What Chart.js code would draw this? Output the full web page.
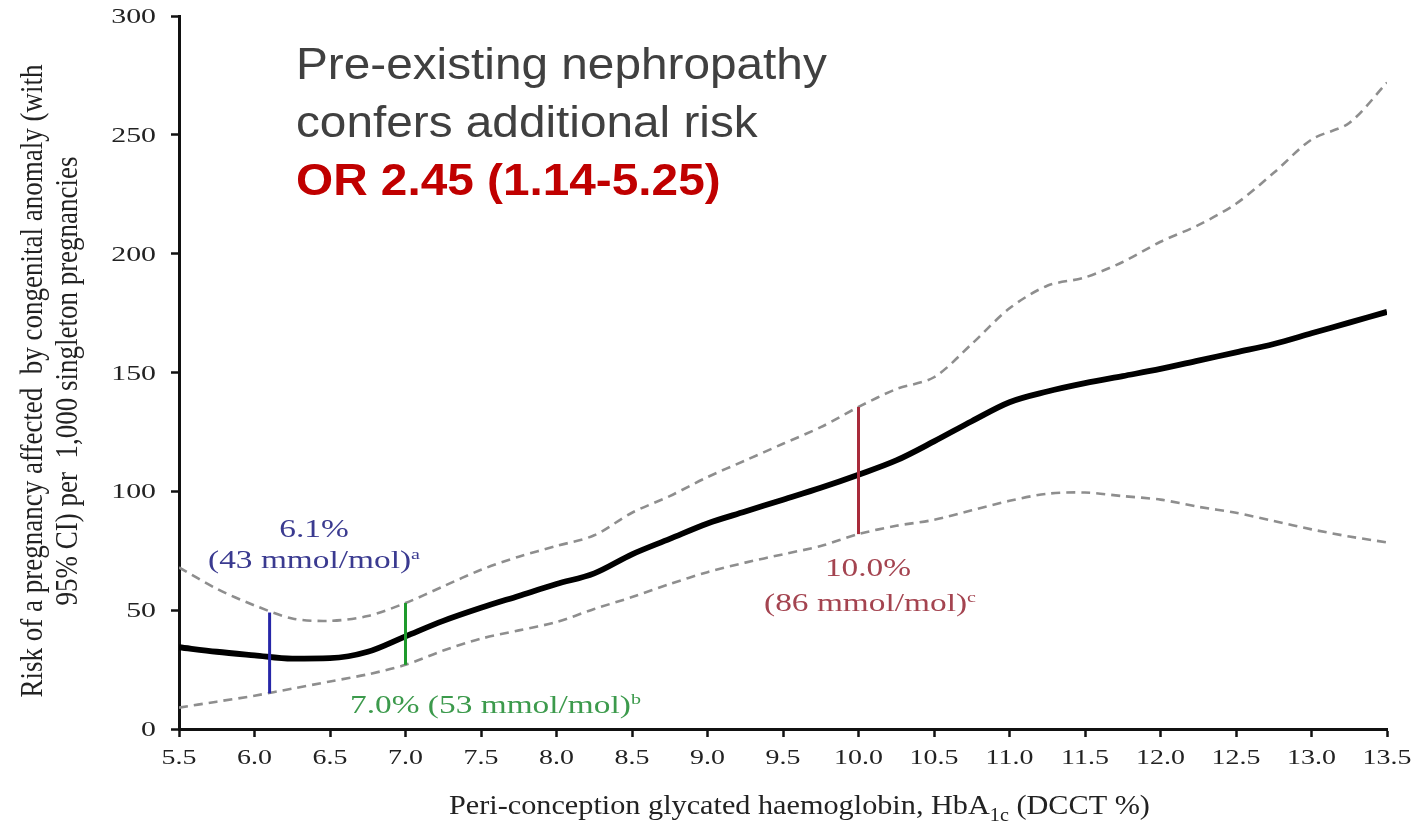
<!DOCTYPE html>
<html>
<head>
<meta charset="utf-8">
<script src="https://cdn.jsdelivr.net/npm/chart.js@4.4.1/dist/chart.umd.min.js"></script>
<style>
  html, body { margin: 0; padding: 0; background: #fff; }
  #wrap { position: relative; width: 1418px; height: 824px; }
  #headline {
    position: absolute; left: 296px; top: 35px;
    font-family: "Liberation Sans", Arial, sans-serif; font-size: 44px; line-height: 58px;
    color: #404040; transform: scaleX(1.085); transform-origin: left top; white-space: nowrap;
  }
  #headline .or { color: #c00000; font-weight: bold; }
</style>
</head>
<body>
<div id="wrap">
  <canvas id="riskChart" width="1418" height="824"></canvas>
  <div id="headline">Pre-existing nephropathy<br>confers additional risk<br><span class="or">OR 2.45 (1.14-5.25)</span></div>
</div>
<script>
// HbA1c (%) grid and modelled risk per 1,000 pregnancies
const hba1c = [5.5, 5.75, 6.0, 6.25, 6.5, 6.75, 7.0, 7.25, 7.5, 7.75, 8.0, 8.25, 8.5, 8.75, 9.0, 9.25, 9.5,
               9.75, 10.0, 10.25, 10.5, 10.75, 11.0, 11.25, 11.5, 11.75, 12.0, 12.25, 12.5, 12.75, 13.0, 13.25, 13.5];
const riskEstimate = [34.4, 32.5, 31, 29.6, 29.8, 32.5, 39, 45.5, 51, 56, 61, 65.5, 73.5, 80, 86.5, 91.5, 96.5,
                      101.5, 107, 113, 121, 129.5, 137.5, 142, 145.5, 148.5, 151.5, 155, 158.5, 162, 166.5, 171, 175.5];
const riskUpper = [68, 59, 52, 46.5, 45.5, 47.5, 53, 60, 67, 72.5, 77, 81.5, 91, 98, 106, 113, 120,
                   127, 135.5, 143, 148, 162, 177, 186.5, 190, 196.5, 205, 212, 221, 234, 248, 255, 272];
const riskLower = [9, 11.5, 14, 17, 20, 23, 27, 33, 38, 41.5, 45, 50.5, 55.5, 61, 66, 70, 73.5,
                   77, 82, 85.5, 88, 92, 96, 99, 99.5, 98, 96.5, 93.5, 91, 87.5, 84, 81, 78.5];

// highlighted HbA1c thresholds with their 95% CI
const markerHba1c = [6.1, 7.0, 10.0];
const markerLow = [15, 27, 82];
const markerHigh = [49, 53, 135.5];
const markerPercent = ['6.1%', '7.0%', '10.0%'];
const markerMmol = ['(43 mmol/mol)', '(53 mmol/mol)', '(86 mmol/mol)'];
const markerNote = ['a', 'b', 'c'];

const yTitle = ['Risk of a pregnancy affected  by congenital anomaly (with', '95% CI) per  1,000 singleton pregnancies'];

const markerLineColours = ['#2626a8', '#1e9a2c', '#a82a3a'];
const markerTextColours = ['#3a3a90', '#3c9a4c', '#a44450'];
const serif = '"Liberation Serif", "Times New Roman", serif';

function pts(xs, ys) {
    return xs.map((x, i) => ({ x: x, y: ys[i] }));
}

// text with a horizontal stretch, made of runs (for super/subscripts)
function drawRuns(ctx, runs, x, y, sx, align, colour) {
    ctx.save();
    ctx.fillStyle = colour;
    ctx.textBaseline = 'alphabetic';
    ctx.textAlign = 'left';
    let total = 0;
    runs.forEach(r => { ctx.font = r.font; r.w = ctx.measureText(r.t).width; total += r.w; });
    let left = x;
    if (align === 'center') left = x - total * sx / 2;
    if (align === 'right') left = x - total * sx;
    let off = 0;
    runs.forEach(r => {
        ctx.save();
        ctx.translate(left + off * sx, y + (r.dy || 0));
        ctx.scale(sx, 1);
        ctx.font = r.font;
        ctx.fillText(r.t, 0, 0);
        ctx.restore();
        off += r.w;
    });
    ctx.restore();
}

const textPlugin = {
    id: 'textPlugin',
    afterDraw(chart) {
        const ctx = chart.ctx;
        const xs = chart.scales.x, ys = chart.scales.y;

        // tick labels
        const tickFontX = '22px ' + serif, tickFontY = '21px ' + serif;
        xs.ticks.forEach(t => {
            drawRuns(ctx, [{ t: t.value.toFixed(1), font: tickFontX }], xs.getPixelForValue(t.value), 764, 1.27, 'center', '#222');
        });
        ys.ticks.forEach(t => {
            drawRuns(ctx, [{ t: String(t.value), font: tickFontY }], 156, ys.getPixelForValue(t.value) + 7, 1.42, 'right', '#222');
        });

        // y axis title, rotated
        ctx.save();
        ctx.fillStyle = '#222';
        ctx.font = '27px ' + serif;
        ctx.textAlign = 'center';
        ctx.textBaseline = 'alphabetic';
        [42, 77].forEach((bx, i) => {
            ctx.save();
            ctx.translate(bx, 381);
            ctx.rotate(-Math.PI / 2);
            ctx.scale(1, 1.2);
            ctx.fillText(yTitle[i], 0, 0);
            ctx.restore();
        });
        ctx.restore();

        // x axis title with subscript
        const tf = '27px ' + serif, sf = '18px ' + serif;
        drawRuns(ctx, [
            { t: 'Peri-conception glycated haemoglobin, HbA', font: tf },
            { t: '1c', font: sf, dy: 7 },
            { t: ' (DCCT %)', font: tf }
        ], 449, 814, 1.12, 'left', '#222');

        // marker annotations
        const af = '25px ' + serif, supf = '15px ' + serif;
        drawRuns(ctx, [{ t: markerPercent[0], font: af }], 314, 537, 1.335, 'center', markerTextColours[0]);
        drawRuns(ctx, [{ t: markerMmol[0], font: af }, { t: markerNote[0], font: supf, dy: -9 }], 314, 568, 1.335, 'center', markerTextColours[0]);
        drawRuns(ctx, [{ t: markerPercent[1] + ' ' + markerMmol[1], font: af }, { t: markerNote[1], font: supf, dy: -9 }], 350, 713, 1.335, 'left', markerTextColours[1]);
        drawRuns(ctx, [{ t: markerPercent[2], font: af }], 868, 576, 1.335, 'center', markerTextColours[2]);
        drawRuns(ctx, [{ t: markerMmol[2], font: af }, { t: markerNote[2], font: supf, dy: -9 }], 870, 611, 1.335, 'center', markerTextColours[2]);
    }
};

const markerSets = markerHba1c.map((x, i) => ({
    data: [{ x: x, y: markerLow[i] }, { x: x, y: markerHigh[i] }],
    borderColor: markerLineColours[i],
    borderWidth: 3,
    pointRadius: 0
}));

const ciStyle = {
    borderColor: '#8e8e8e',
    borderWidth: 2.6,
    borderDash: [9, 6],
    pointRadius: 0,
    tension: 0.3
};

new Chart(document.getElementById('riskChart').getContext('2d'), {
    type: 'line',
    data: {
        datasets: markerSets.concat([
            { data: pts(hba1c, riskEstimate), borderColor: '#000', borderWidth: 5.8, pointRadius: 0, cubicInterpolationMode: 'monotone' },
            Object.assign({ data: pts(hba1c, riskUpper) }, ciStyle),
            Object.assign({ data: pts(hba1c, riskLower) }, ciStyle)
        ])
    },
    options: {
        responsive: false,
        animation: false,
        layout: { padding: { left: 0, top: 16, right: 31, bottom: 0 } },
        plugins: { legend: { display: false }, tooltip: { enabled: false } },
        scales: {
            x: {
                type: 'linear', min: 5.5, max: 13.5,
                ticks: { stepSize: 0.5, display: false },
                grid: { display: true, drawOnChartArea: false, drawTicks: true, tickLength: 8, tickColor: '#111', tickWidth: 2.5 },
                border: { display: true, color: '#111', width: 3 },
                afterFit: s => { s.height = 95; }
            },
            y: {
                min: 0, max: 300,
                ticks: { stepSize: 50, display: false },
                grid: { display: true, drawOnChartArea: false, drawTicks: true, tickLength: 8, tickColor: '#111', tickWidth: 2.5 },
                border: { display: true, color: '#111', width: 3 },
                afterFit: s => { s.width = 179; }
            }
        }
    },
    plugins: [textPlugin]
});
</script>
</body>
</html>
